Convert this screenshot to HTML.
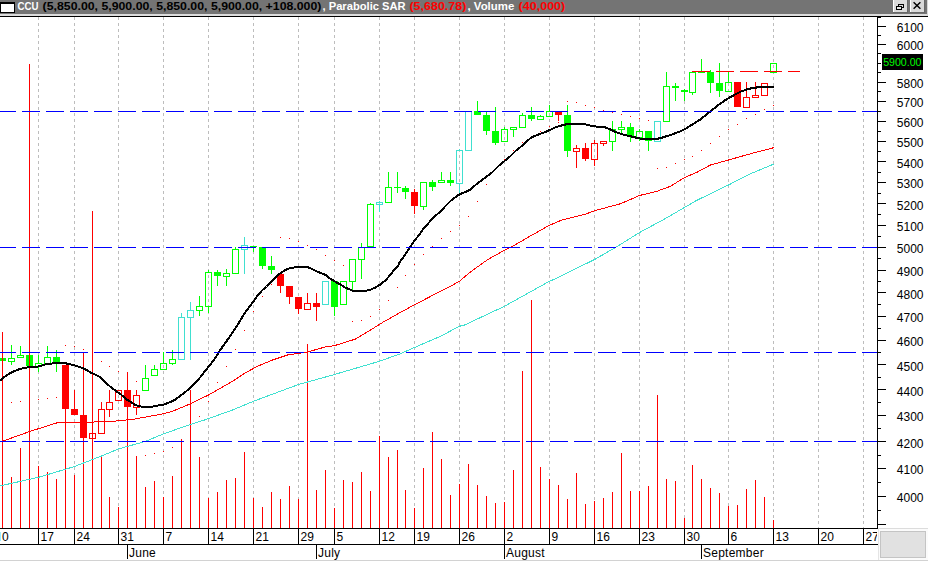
<!DOCTYPE html>
<html><head><meta charset="utf-8"><title>CCU chart</title>
<style>html,body{margin:0;padding:0;background:#fff;overflow:hidden}body{width:928px;height:561px;position:relative;font-family:"Liberation Sans",sans-serif}</style></head>
<body>
<svg width="928" height="561" viewBox="0 0 928 561" style="position:absolute;left:0;top:0" font-family="Liberation Sans, sans-serif">
<rect x="0" y="0" width="928" height="561" fill="#fff"/>
<g shape-rendering="crispEdges">
<clipPath id="cc"><rect x="0" y="17" width="877" height="511"/></clipPath>
<g clip-path="url(#cc)">
<line x1="38.5" y1="17" x2="38.5" y2="528" stroke="#bdbdbd" stroke-width="1" stroke-dasharray="3,3"/>
<line x1="74.5" y1="17" x2="74.5" y2="528" stroke="#bdbdbd" stroke-width="1" stroke-dasharray="3,3"/>
<line x1="118.5" y1="17" x2="118.5" y2="528" stroke="#bdbdbd" stroke-width="1" stroke-dasharray="3,3"/>
<line x1="163.5" y1="17" x2="163.5" y2="528" stroke="#bdbdbd" stroke-width="1" stroke-dasharray="3,3"/>
<line x1="208.5" y1="17" x2="208.5" y2="528" stroke="#bdbdbd" stroke-width="1" stroke-dasharray="3,3"/>
<line x1="253.5" y1="17" x2="253.5" y2="528" stroke="#bdbdbd" stroke-width="1" stroke-dasharray="3,3"/>
<line x1="298.5" y1="17" x2="298.5" y2="528" stroke="#bdbdbd" stroke-width="1" stroke-dasharray="3,3"/>
<line x1="334.5" y1="17" x2="334.5" y2="528" stroke="#bdbdbd" stroke-width="1" stroke-dasharray="3,3"/>
<line x1="379.5" y1="17" x2="379.5" y2="528" stroke="#bdbdbd" stroke-width="1" stroke-dasharray="3,3"/>
<line x1="414.5" y1="17" x2="414.5" y2="528" stroke="#bdbdbd" stroke-width="1" stroke-dasharray="3,3"/>
<line x1="459.5" y1="17" x2="459.5" y2="528" stroke="#bdbdbd" stroke-width="1" stroke-dasharray="3,3"/>
<line x1="504.5" y1="17" x2="504.5" y2="528" stroke="#bdbdbd" stroke-width="1" stroke-dasharray="3,3"/>
<line x1="549.5" y1="17" x2="549.5" y2="528" stroke="#bdbdbd" stroke-width="1" stroke-dasharray="3,3"/>
<line x1="594.5" y1="17" x2="594.5" y2="528" stroke="#bdbdbd" stroke-width="1" stroke-dasharray="3,3"/>
<line x1="639.5" y1="17" x2="639.5" y2="528" stroke="#bdbdbd" stroke-width="1" stroke-dasharray="3,3"/>
<line x1="684.5" y1="17" x2="684.5" y2="528" stroke="#bdbdbd" stroke-width="1" stroke-dasharray="3,3"/>
<line x1="728.5" y1="17" x2="728.5" y2="528" stroke="#bdbdbd" stroke-width="1" stroke-dasharray="3,3"/>
<line x1="773.5" y1="17" x2="773.5" y2="528" stroke="#bdbdbd" stroke-width="1" stroke-dasharray="3,3"/>
<line x1="818.5" y1="17" x2="818.5" y2="528" stroke="#bdbdbd" stroke-width="1" stroke-dasharray="3,3"/>
<line x1="863.5" y1="17" x2="863.5" y2="528" stroke="#bdbdbd" stroke-width="1" stroke-dasharray="3,3"/>
<rect x="-1" y="358" width="7" height="3" fill="#00ff00"/>
<rect x="11" y="345" width="1" height="13" fill="#00ff00"/>
<rect x="11" y="362" width="1" height="3" fill="#00ff00"/>
<rect x="8.5" y="358.5" width="6" height="3" fill="none" stroke="#00ff00" stroke-width="1"/>
<rect x="20" y="346" width="1" height="9" fill="#00ff00"/>
<rect x="17.5" y="355.5" width="6" height="2" fill="none" stroke="#00ff00" stroke-width="1"/>
<rect x="26" y="355" width="7" height="11" fill="#00ff00"/>
<rect x="38" y="355" width="1" height="8" fill="#00ff00"/>
<rect x="38" y="367" width="1" height="5" fill="#00ff00"/>
<rect x="35.5" y="363.5" width="6" height="3" fill="none" stroke="#00ff00" stroke-width="1"/>
<rect x="47" y="346" width="1" height="11" fill="#00ff00"/>
<rect x="44.5" y="357.5" width="6" height="6" fill="none" stroke="#00ff00" stroke-width="1"/>
<rect x="56" y="350" width="1" height="7" fill="#00ff00"/>
<rect x="56" y="363" width="1" height="9" fill="#00ff00"/>
<rect x="53" y="357" width="7" height="6" fill="#00ff00"/>
<rect x="62" y="365" width="7" height="44" fill="#ff0000"/>
<rect x="74" y="390" width="1" height="19" fill="#ff0000"/>
<rect x="71" y="409" width="7" height="6" fill="#ff0000"/>
<rect x="80" y="415" width="7" height="23" fill="#ff0000"/>
<rect x="89.5" y="433.5" width="6" height="5" fill="none" stroke="#ff0000" stroke-width="1"/>
<rect x="101" y="402" width="1" height="7" fill="#ff0000"/>
<rect x="98.5" y="409.5" width="6" height="24" fill="none" stroke="#ff0000" stroke-width="1"/>
<rect x="109" y="390" width="1" height="12" fill="#ff0000"/>
<rect x="109" y="410" width="1" height="7" fill="#ff0000"/>
<rect x="106.5" y="402.5" width="6" height="7" fill="none" stroke="#ff0000" stroke-width="1"/>
<rect x="115.5" y="390.5" width="6" height="10" fill="none" stroke="#ff0000" stroke-width="1"/>
<rect x="124" y="390" width="7" height="17" fill="#ff0000"/>
<rect x="136" y="390" width="1" height="5" fill="#ff0000"/>
<rect x="136" y="408" width="1" height="7" fill="#ff0000"/>
<rect x="133.5" y="395.5" width="6" height="12" fill="none" stroke="#ff0000" stroke-width="1"/>
<rect x="145" y="365" width="1" height="13" fill="#00ff00"/>
<rect x="142.5" y="378.5" width="6" height="12" fill="none" stroke="#00ff00" stroke-width="1"/>
<rect x="154" y="365" width="1" height="4" fill="#00ff00"/>
<rect x="151.5" y="369.5" width="6" height="6" fill="none" stroke="#00ff00" stroke-width="1"/>
<rect x="163" y="352" width="1" height="11" fill="#00ff00"/>
<rect x="160.5" y="363.5" width="6" height="6" fill="none" stroke="#00ff00" stroke-width="1"/>
<rect x="172" y="350" width="1" height="9" fill="#00ff00"/>
<rect x="172" y="364" width="1" height="1" fill="#00ff00"/>
<rect x="169.5" y="359.5" width="6" height="4" fill="none" stroke="#00ff00" stroke-width="1"/>
<rect x="181" y="313" width="1" height="4" fill="#40e0d0"/>
<rect x="178.5" y="317.5" width="6" height="42" fill="none" stroke="#40e0d0" stroke-width="1"/>
<rect x="190" y="302" width="1" height="8" fill="#40e0d0"/>
<rect x="190" y="318" width="1" height="42" fill="#40e0d0"/>
<rect x="187.5" y="310.5" width="6" height="7" fill="none" stroke="#40e0d0" stroke-width="1"/>
<rect x="199" y="296" width="1" height="10" fill="#00ff00"/>
<rect x="199" y="311" width="1" height="5" fill="#00ff00"/>
<rect x="196.5" y="306.5" width="6" height="4" fill="none" stroke="#00ff00" stroke-width="1"/>
<rect x="208" y="270" width="1" height="2" fill="#00ff00"/>
<rect x="208" y="307" width="1" height="6" fill="#00ff00"/>
<rect x="205.5" y="272.5" width="6" height="34" fill="none" stroke="#00ff00" stroke-width="1"/>
<rect x="217" y="270" width="1" height="2" fill="#00ff00"/>
<rect x="217" y="276" width="1" height="10" fill="#00ff00"/>
<rect x="214" y="272" width="7" height="4" fill="#00ff00"/>
<rect x="226" y="269" width="1" height="4" fill="#00ff00"/>
<rect x="226" y="277" width="1" height="9" fill="#00ff00"/>
<rect x="223.5" y="273.5" width="6" height="3" fill="none" stroke="#00ff00" stroke-width="1"/>
<rect x="235" y="247" width="1" height="2" fill="#00ff00"/>
<rect x="232.5" y="249.5" width="6" height="24" fill="none" stroke="#00ff00" stroke-width="1"/>
<rect x="244" y="237" width="1" height="8" fill="#40e0d0"/>
<rect x="244" y="250" width="1" height="24" fill="#40e0d0"/>
<rect x="241.5" y="245.5" width="6" height="4" fill="none" stroke="#40e0d0" stroke-width="1"/>
<rect x="253" y="247" width="1" height="5" fill="#00ff00"/>
<rect x="250" y="246" width="7" height="1" fill="#00ff00"/>
<rect x="262" y="266" width="1" height="3" fill="#00ff00"/>
<rect x="259" y="247" width="7" height="19" fill="#00ff00"/>
<rect x="271" y="256" width="1" height="10" fill="#00ff00"/>
<rect x="271" y="270" width="1" height="4" fill="#00ff00"/>
<rect x="268" y="266" width="7" height="4" fill="#00ff00"/>
<rect x="280" y="286" width="1" height="7" fill="#ff0000"/>
<rect x="277" y="274" width="7" height="12" fill="#ff0000"/>
<rect x="289" y="297" width="1" height="7" fill="#ff0000"/>
<rect x="286" y="286" width="7" height="11" fill="#ff0000"/>
<rect x="298" y="309" width="1" height="5" fill="#ff0000"/>
<rect x="295" y="297" width="7" height="12" fill="#ff0000"/>
<rect x="307" y="293" width="1" height="10" fill="#ff0000"/>
<rect x="304.5" y="303.5" width="6" height="6" fill="none" stroke="#ff0000" stroke-width="1"/>
<rect x="316" y="293" width="1" height="10" fill="#ff0000"/>
<rect x="316" y="307" width="1" height="14" fill="#ff0000"/>
<rect x="313" y="303" width="7" height="4" fill="#ff0000"/>
<rect x="322.5" y="281.5" width="6" height="23" fill="none" stroke="#40e0d0" stroke-width="1"/>
<rect x="334" y="307" width="1" height="9" fill="#00ff00"/>
<rect x="331" y="281" width="7" height="26" fill="#00ff00"/>
<rect x="340.5" y="281.5" width="6" height="23" fill="none" stroke="#00ff00" stroke-width="1"/>
<rect x="352" y="282" width="1" height="8" fill="#00ff00"/>
<rect x="349.5" y="259.5" width="6" height="22" fill="none" stroke="#00ff00" stroke-width="1"/>
<rect x="361" y="243" width="1" height="4" fill="#00ff00"/>
<rect x="361" y="260" width="1" height="19" fill="#00ff00"/>
<rect x="358.5" y="247.5" width="6" height="12" fill="none" stroke="#00ff00" stroke-width="1"/>
<rect x="370" y="203" width="1" height="1" fill="#00ff00"/>
<rect x="367.5" y="204.5" width="6" height="42" fill="none" stroke="#00ff00" stroke-width="1"/>
<rect x="379" y="201" width="1" height="1" fill="#40e0d0"/>
<rect x="379" y="205" width="1" height="7" fill="#40e0d0"/>
<rect x="376.5" y="202.5" width="6" height="2" fill="none" stroke="#40e0d0" stroke-width="1"/>
<rect x="388" y="172" width="1" height="15" fill="#00ff00"/>
<rect x="385.5" y="187.5" width="6" height="15" fill="none" stroke="#00ff00" stroke-width="1"/>
<rect x="397" y="172" width="1" height="15" fill="#00ff00"/>
<rect x="397" y="188" width="1" height="5" fill="#00ff00"/>
<rect x="394" y="187" width="7" height="1" fill="#00ff00"/>
<rect x="405" y="186" width="1" height="2" fill="#00ff00"/>
<rect x="405" y="192" width="1" height="7" fill="#00ff00"/>
<rect x="402" y="188" width="7" height="4" fill="#00ff00"/>
<rect x="414" y="189" width="1" height="3" fill="#ff0000"/>
<rect x="414" y="206" width="1" height="8" fill="#ff0000"/>
<rect x="411" y="192" width="7" height="14" fill="#ff0000"/>
<rect x="423" y="207" width="1" height="3" fill="#00ff00"/>
<rect x="420.5" y="182.5" width="6" height="24" fill="none" stroke="#00ff00" stroke-width="1"/>
<rect x="432" y="180" width="1" height="2" fill="#00ff00"/>
<rect x="432" y="187" width="1" height="4" fill="#00ff00"/>
<rect x="429" y="182" width="7" height="5" fill="#00ff00"/>
<rect x="441" y="172" width="1" height="8" fill="#00ff00"/>
<rect x="438.5" y="180.5" width="6" height="2" fill="none" stroke="#00ff00" stroke-width="1"/>
<rect x="450" y="172" width="1" height="8" fill="#00ff00"/>
<rect x="450" y="183" width="1" height="3" fill="#00ff00"/>
<rect x="447" y="180" width="7" height="3" fill="#00ff00"/>
<rect x="459" y="149" width="1" height="1" fill="#40e0d0"/>
<rect x="459" y="184" width="1" height="9" fill="#40e0d0"/>
<rect x="456.5" y="150.5" width="6" height="33" fill="none" stroke="#40e0d0" stroke-width="1"/>
<rect x="465.5" y="111.5" width="6" height="39" fill="none" stroke="#40e0d0" stroke-width="1"/>
<rect x="477" y="101" width="1" height="10" fill="#00ff00"/>
<rect x="474" y="111" width="7" height="4" fill="#00ff00"/>
<rect x="486" y="112" width="1" height="3" fill="#00ff00"/>
<rect x="486" y="131" width="1" height="4" fill="#00ff00"/>
<rect x="483" y="115" width="7" height="16" fill="#00ff00"/>
<rect x="495" y="107" width="1" height="24" fill="#00ff00"/>
<rect x="495" y="143" width="1" height="2" fill="#00ff00"/>
<rect x="492" y="131" width="7" height="12" fill="#00ff00"/>
<rect x="504" y="127" width="1" height="2" fill="#00ff00"/>
<rect x="501.5" y="129.5" width="6" height="12" fill="none" stroke="#00ff00" stroke-width="1"/>
<rect x="513" y="130" width="1" height="7" fill="#00ff00"/>
<rect x="510.5" y="127.5" width="6" height="2" fill="none" stroke="#00ff00" stroke-width="1"/>
<rect x="522" y="113" width="1" height="2" fill="#00ff00"/>
<rect x="519.5" y="115.5" width="6" height="12" fill="none" stroke="#00ff00" stroke-width="1"/>
<rect x="531" y="107" width="1" height="8" fill="#00ff00"/>
<rect x="531" y="119" width="1" height="2" fill="#00ff00"/>
<rect x="528" y="115" width="7" height="4" fill="#00ff00"/>
<rect x="540" y="115" width="1" height="1" fill="#00ff00"/>
<rect x="537.5" y="116.5" width="6" height="3" fill="none" stroke="#00ff00" stroke-width="1"/>
<rect x="549" y="105" width="1" height="6" fill="#00ff00"/>
<rect x="546.5" y="111.5" width="6" height="5" fill="none" stroke="#00ff00" stroke-width="1"/>
<rect x="558" y="115" width="1" height="6" fill="#ff0000"/>
<rect x="555" y="112" width="7" height="3" fill="#ff0000"/>
<rect x="567" y="105" width="1" height="10" fill="#00ff00"/>
<rect x="567" y="151" width="1" height="6" fill="#00ff00"/>
<rect x="564" y="115" width="7" height="36" fill="#00ff00"/>
<rect x="576" y="145" width="1" height="3" fill="#ff0000"/>
<rect x="576" y="152" width="1" height="16" fill="#ff0000"/>
<rect x="573.5" y="148.5" width="6" height="3" fill="none" stroke="#ff0000" stroke-width="1"/>
<rect x="585" y="143" width="1" height="5" fill="#ff0000"/>
<rect x="585" y="159" width="1" height="2" fill="#ff0000"/>
<rect x="582" y="148" width="7" height="11" fill="#ff0000"/>
<rect x="594" y="140" width="1" height="3" fill="#ff0000"/>
<rect x="594" y="160" width="1" height="6" fill="#ff0000"/>
<rect x="591.5" y="143.5" width="6" height="16" fill="none" stroke="#ff0000" stroke-width="1"/>
<rect x="603" y="144" width="1" height="2" fill="#ff0000"/>
<rect x="600.5" y="141.5" width="6" height="2" fill="none" stroke="#ff0000" stroke-width="1"/>
<rect x="612" y="121" width="1" height="8" fill="#00ff00"/>
<rect x="612" y="142" width="1" height="9" fill="#00ff00"/>
<rect x="609.5" y="129.5" width="6" height="12" fill="none" stroke="#00ff00" stroke-width="1"/>
<rect x="621" y="121" width="1" height="6" fill="#00ff00"/>
<rect x="621" y="130" width="1" height="3" fill="#00ff00"/>
<rect x="618.5" y="127.5" width="6" height="2" fill="none" stroke="#00ff00" stroke-width="1"/>
<rect x="630" y="123" width="1" height="4" fill="#00ff00"/>
<rect x="630" y="137" width="1" height="5" fill="#00ff00"/>
<rect x="627" y="127" width="7" height="10" fill="#00ff00"/>
<rect x="639" y="129" width="1" height="2" fill="#00ff00"/>
<rect x="639" y="138" width="1" height="3" fill="#00ff00"/>
<rect x="636.5" y="131.5" width="6" height="6" fill="none" stroke="#00ff00" stroke-width="1"/>
<rect x="648" y="141" width="1" height="10" fill="#00ff00"/>
<rect x="645" y="131" width="7" height="10" fill="#00ff00"/>
<rect x="654.5" y="121.5" width="6" height="20" fill="none" stroke="#40e0d0" stroke-width="1"/>
<rect x="666" y="72" width="1" height="14" fill="#00ff00"/>
<rect x="663.5" y="86.5" width="6" height="35" fill="none" stroke="#00ff00" stroke-width="1"/>
<rect x="675" y="83" width="1" height="3" fill="#00ff00"/>
<rect x="675" y="88" width="1" height="13" fill="#00ff00"/>
<rect x="672" y="86" width="7" height="2" fill="#00ff00"/>
<rect x="684" y="89" width="1" height="1" fill="#00ff00"/>
<rect x="684" y="92" width="1" height="9" fill="#00ff00"/>
<rect x="681" y="90" width="7" height="2" fill="#00ff00"/>
<rect x="692" y="93" width="1" height="2" fill="#00ff00"/>
<rect x="689.5" y="72.5" width="6" height="20" fill="none" stroke="#00ff00" stroke-width="1"/>
<rect x="701" y="59" width="1" height="13" fill="#00ff00"/>
<rect x="698" y="72" width="7" height="1" fill="#00ff00"/>
<rect x="710" y="70" width="1" height="2" fill="#00ff00"/>
<rect x="710" y="83" width="1" height="10" fill="#00ff00"/>
<rect x="707" y="72" width="7" height="11" fill="#00ff00"/>
<rect x="719" y="63" width="1" height="20" fill="#00ff00"/>
<rect x="719" y="91" width="1" height="6" fill="#00ff00"/>
<rect x="716" y="83" width="7" height="8" fill="#00ff00"/>
<rect x="728" y="72" width="1" height="10" fill="#00ff00"/>
<rect x="725.5" y="82.5" width="6" height="9" fill="none" stroke="#00ff00" stroke-width="1"/>
<rect x="734" y="82" width="7" height="25" fill="#ff0000"/>
<rect x="746" y="82" width="1" height="15" fill="#ff0000"/>
<rect x="743.5" y="97.5" width="6" height="10" fill="none" stroke="#ff0000" stroke-width="1"/>
<rect x="755" y="82" width="1" height="13" fill="#ff0000"/>
<rect x="752.5" y="95.5" width="6" height="2" fill="none" stroke="#ff0000" stroke-width="1"/>
<rect x="761.5" y="83.5" width="6" height="12" fill="none" stroke="#ff0000" stroke-width="1"/>
<rect x="770.5" y="63.5" width="6" height="9" fill="none" stroke="#00ff00" stroke-width="1"/>
<rect x="2" y="403" width="1" height="1" fill="#ff0000"/>
<rect x="11" y="402" width="1" height="1" fill="#ff0000"/>
<rect x="20" y="401" width="1" height="1" fill="#ff0000"/>
<rect x="29" y="400" width="1" height="1" fill="#ff0000"/>
<rect x="38" y="399" width="1" height="1" fill="#ff0000"/>
<rect x="47" y="398" width="1" height="1" fill="#ff0000"/>
<rect x="56" y="397" width="1" height="1" fill="#ff0000"/>
<rect x="65" y="345" width="1" height="1" fill="#ff0000"/>
<rect x="74" y="346" width="1" height="1" fill="#ff0000"/>
<rect x="83" y="349" width="1" height="1" fill="#ff0000"/>
<rect x="92" y="355" width="1" height="1" fill="#ff0000"/>
<rect x="101" y="361" width="1" height="1" fill="#ff0000"/>
<rect x="109" y="366" width="1" height="1" fill="#ff0000"/>
<rect x="118" y="371" width="1" height="1" fill="#ff0000"/>
<rect x="127" y="376" width="1" height="1" fill="#ff0000"/>
<rect x="136" y="381" width="1" height="1" fill="#ff0000"/>
<rect x="145" y="455" width="1" height="1" fill="#ff0000"/>
<rect x="154" y="453" width="1" height="1" fill="#ff0000"/>
<rect x="163" y="451" width="1" height="1" fill="#ff0000"/>
<rect x="172" y="447" width="1" height="1" fill="#ff0000"/>
<rect x="181" y="440" width="1" height="1" fill="#ff0000"/>
<rect x="190" y="430" width="1" height="1" fill="#ff0000"/>
<rect x="199" y="416" width="1" height="1" fill="#ff0000"/>
<rect x="208" y="401" width="1" height="1" fill="#ff0000"/>
<rect x="217" y="382" width="1" height="1" fill="#ff0000"/>
<rect x="226" y="366" width="1" height="1" fill="#ff0000"/>
<rect x="235" y="349" width="1" height="1" fill="#ff0000"/>
<rect x="244" y="330" width="1" height="1" fill="#ff0000"/>
<rect x="253" y="311" width="1" height="1" fill="#ff0000"/>
<rect x="262" y="296" width="1" height="1" fill="#ff0000"/>
<rect x="271" y="284" width="1" height="1" fill="#ff0000"/>
<rect x="280" y="237" width="1" height="1" fill="#ff0000"/>
<rect x="289" y="238" width="1" height="1" fill="#ff0000"/>
<rect x="298" y="241" width="1" height="1" fill="#ff0000"/>
<rect x="307" y="245" width="1" height="1" fill="#ff0000"/>
<rect x="316" y="249" width="1" height="1" fill="#ff0000"/>
<rect x="325" y="255" width="1" height="1" fill="#ff0000"/>
<rect x="334" y="260" width="1" height="1" fill="#ff0000"/>
<rect x="343" y="265" width="1" height="1" fill="#ff0000"/>
<rect x="352" y="321" width="1" height="1" fill="#ff0000"/>
<rect x="361" y="320" width="1" height="1" fill="#ff0000"/>
<rect x="370" y="316" width="1" height="1" fill="#ff0000"/>
<rect x="379" y="309" width="1" height="1" fill="#ff0000"/>
<rect x="388" y="300" width="1" height="1" fill="#ff0000"/>
<rect x="397" y="287" width="1" height="1" fill="#ff0000"/>
<rect x="405" y="275" width="1" height="1" fill="#ff0000"/>
<rect x="414" y="264" width="1" height="1" fill="#ff0000"/>
<rect x="423" y="254" width="1" height="1" fill="#ff0000"/>
<rect x="432" y="246" width="1" height="1" fill="#ff0000"/>
<rect x="441" y="238" width="1" height="1" fill="#ff0000"/>
<rect x="450" y="231" width="1" height="1" fill="#ff0000"/>
<rect x="459" y="225" width="1" height="1" fill="#ff0000"/>
<rect x="468" y="216" width="1" height="1" fill="#ff0000"/>
<rect x="477" y="201" width="1" height="1" fill="#ff0000"/>
<rect x="486" y="184" width="1" height="1" fill="#ff0000"/>
<rect x="504" y="159" width="1" height="1" fill="#ff0000"/>
<rect x="513" y="150" width="1" height="1" fill="#ff0000"/>
<rect x="522" y="142" width="1" height="1" fill="#ff0000"/>
<rect x="540" y="131" width="1" height="1" fill="#ff0000"/>
<rect x="549" y="126" width="1" height="1" fill="#ff0000"/>
<rect x="558" y="122" width="1" height="1" fill="#ff0000"/>
<rect x="567" y="101" width="1" height="1" fill="#ff0000"/>
<rect x="576" y="102" width="1" height="1" fill="#ff0000"/>
<rect x="585" y="105" width="1" height="1" fill="#ff0000"/>
<rect x="594" y="107" width="1" height="1" fill="#ff0000"/>
<rect x="603" y="110" width="1" height="1" fill="#ff0000"/>
<rect x="612" y="112" width="1" height="1" fill="#ff0000"/>
<rect x="621" y="114" width="1" height="1" fill="#ff0000"/>
<rect x="630" y="116" width="1" height="1" fill="#ff0000"/>
<rect x="639" y="118" width="1" height="1" fill="#ff0000"/>
<rect x="648" y="120" width="1" height="1" fill="#ff0000"/>
<rect x="657" y="168" width="1" height="1" fill="#ff0000"/>
<rect x="666" y="167" width="1" height="1" fill="#ff0000"/>
<rect x="675" y="163" width="1" height="1" fill="#ff0000"/>
<rect x="684" y="159" width="1" height="1" fill="#ff0000"/>
<rect x="692" y="156" width="1" height="1" fill="#ff0000"/>
<rect x="701" y="150" width="1" height="1" fill="#ff0000"/>
<rect x="710" y="143" width="1" height="1" fill="#ff0000"/>
<rect x="719" y="136" width="1" height="1" fill="#ff0000"/>
<rect x="728" y="129" width="1" height="1" fill="#ff0000"/>
<rect x="737" y="124" width="1" height="1" fill="#ff0000"/>
<rect x="746" y="118" width="1" height="1" fill="#ff0000"/>
<rect x="755" y="114" width="1" height="1" fill="#ff0000"/>
<rect x="764" y="109" width="1" height="1" fill="#ff0000"/>
<rect x="773" y="105" width="1" height="1" fill="#ff0000"/>
<rect x="2" y="332" width="1" height="196" fill="#ff0000"/>
<rect x="11" y="477" width="1" height="51" fill="#ff0000"/>
<rect x="20" y="448" width="1" height="80" fill="#ff0000"/>
<rect x="29" y="64" width="1" height="464" fill="#ff0000"/>
<rect x="38" y="466" width="1" height="62" fill="#ff0000"/>
<rect x="47" y="472" width="1" height="56" fill="#ff0000"/>
<rect x="56" y="479" width="1" height="49" fill="#ff0000"/>
<rect x="65" y="400" width="1" height="128" fill="#ff0000"/>
<rect x="74" y="475" width="1" height="53" fill="#ff0000"/>
<rect x="83" y="352" width="1" height="176" fill="#ff0000"/>
<rect x="92" y="211" width="1" height="317" fill="#ff0000"/>
<rect x="101" y="455" width="1" height="73" fill="#ff0000"/>
<rect x="109" y="497" width="1" height="31" fill="#ff0000"/>
<rect x="118" y="507" width="1" height="21" fill="#ff0000"/>
<rect x="127" y="372" width="1" height="156" fill="#ff0000"/>
<rect x="136" y="456" width="1" height="72" fill="#ff0000"/>
<rect x="145" y="487" width="1" height="41" fill="#ff0000"/>
<rect x="154" y="481" width="1" height="47" fill="#ff0000"/>
<rect x="163" y="497" width="1" height="31" fill="#ff0000"/>
<rect x="172" y="476" width="1" height="52" fill="#ff0000"/>
<rect x="181" y="439" width="1" height="89" fill="#ff0000"/>
<rect x="190" y="390" width="1" height="138" fill="#ff0000"/>
<rect x="199" y="457" width="1" height="71" fill="#ff0000"/>
<rect x="208" y="498" width="1" height="30" fill="#ff0000"/>
<rect x="217" y="492" width="1" height="36" fill="#ff0000"/>
<rect x="226" y="480" width="1" height="48" fill="#ff0000"/>
<rect x="235" y="478" width="1" height="50" fill="#ff0000"/>
<rect x="244" y="452" width="1" height="76" fill="#ff0000"/>
<rect x="253" y="498" width="1" height="30" fill="#ff0000"/>
<rect x="262" y="507" width="1" height="21" fill="#ff0000"/>
<rect x="271" y="492" width="1" height="36" fill="#ff0000"/>
<rect x="280" y="499" width="1" height="29" fill="#ff0000"/>
<rect x="289" y="486" width="1" height="42" fill="#ff0000"/>
<rect x="298" y="499" width="1" height="29" fill="#ff0000"/>
<rect x="307" y="344" width="1" height="184" fill="#ff0000"/>
<rect x="316" y="490" width="1" height="38" fill="#ff0000"/>
<rect x="325" y="470" width="1" height="58" fill="#ff0000"/>
<rect x="334" y="508" width="1" height="20" fill="#ff0000"/>
<rect x="343" y="480" width="1" height="48" fill="#ff0000"/>
<rect x="352" y="482" width="1" height="46" fill="#ff0000"/>
<rect x="361" y="472" width="1" height="56" fill="#ff0000"/>
<rect x="370" y="491" width="1" height="37" fill="#ff0000"/>
<rect x="379" y="436" width="1" height="92" fill="#ff0000"/>
<rect x="388" y="457" width="1" height="71" fill="#ff0000"/>
<rect x="397" y="450" width="1" height="78" fill="#ff0000"/>
<rect x="405" y="490" width="1" height="38" fill="#ff0000"/>
<rect x="414" y="508" width="1" height="20" fill="#ff0000"/>
<rect x="423" y="468" width="1" height="60" fill="#ff0000"/>
<rect x="432" y="432" width="1" height="96" fill="#ff0000"/>
<rect x="441" y="459" width="1" height="69" fill="#ff0000"/>
<rect x="450" y="495" width="1" height="33" fill="#ff0000"/>
<rect x="459" y="484" width="1" height="44" fill="#ff0000"/>
<rect x="468" y="464" width="1" height="64" fill="#ff0000"/>
<rect x="477" y="485" width="1" height="43" fill="#ff0000"/>
<rect x="486" y="496" width="1" height="32" fill="#ff0000"/>
<rect x="495" y="503" width="1" height="25" fill="#ff0000"/>
<rect x="504" y="502" width="1" height="26" fill="#ff0000"/>
<rect x="513" y="470" width="1" height="58" fill="#ff0000"/>
<rect x="522" y="371" width="1" height="157" fill="#ff0000"/>
<rect x="531" y="300" width="1" height="228" fill="#ff0000"/>
<rect x="540" y="467" width="1" height="61" fill="#ff0000"/>
<rect x="549" y="479" width="1" height="49" fill="#ff0000"/>
<rect x="558" y="485" width="1" height="43" fill="#ff0000"/>
<rect x="567" y="499" width="1" height="29" fill="#ff0000"/>
<rect x="576" y="473" width="1" height="55" fill="#ff0000"/>
<rect x="585" y="504" width="1" height="24" fill="#ff0000"/>
<rect x="594" y="501" width="1" height="27" fill="#ff0000"/>
<rect x="603" y="498" width="1" height="30" fill="#ff0000"/>
<rect x="612" y="492" width="1" height="36" fill="#ff0000"/>
<rect x="621" y="453" width="1" height="75" fill="#ff0000"/>
<rect x="630" y="491" width="1" height="37" fill="#ff0000"/>
<rect x="639" y="491" width="1" height="37" fill="#ff0000"/>
<rect x="648" y="486" width="1" height="42" fill="#ff0000"/>
<rect x="657" y="395" width="1" height="133" fill="#ff0000"/>
<rect x="666" y="479" width="1" height="49" fill="#ff0000"/>
<rect x="675" y="481" width="1" height="47" fill="#ff0000"/>
<rect x="684" y="518" width="1" height="10" fill="#ff0000"/>
<rect x="692" y="465" width="1" height="63" fill="#ff0000"/>
<rect x="701" y="479" width="1" height="49" fill="#ff0000"/>
<rect x="710" y="488" width="1" height="40" fill="#ff0000"/>
<rect x="719" y="493" width="1" height="35" fill="#ff0000"/>
<rect x="728" y="506" width="1" height="22" fill="#ff0000"/>
<rect x="737" y="505" width="1" height="23" fill="#ff0000"/>
<rect x="746" y="489" width="1" height="39" fill="#ff0000"/>
<rect x="755" y="480" width="1" height="48" fill="#ff0000"/>
<rect x="764" y="497" width="1" height="31" fill="#ff0000"/>
<rect x="773" y="520" width="1" height="8" fill="#ff0000"/>
</g>
</g>
<g shape-rendering="crispEdges">
<polyline points="0.5,485.8 38.5,477.3 74.5,466.5 100.5,456.4 118.5,448.9 145.5,441.4 163.5,433.8 190.5,424.5 204.5,420 232.5,410 253.5,401.25 298.5,384.5 334.5,374.5 379.5,361.25 400.5,353.75 414.5,347.5 440.5,336.25 459.5,326.25 464.5,325 504.5,306.25 549.5,281.25 555.5,278.75 594.5,259.5 615.5,247.5 639.5,232.5 660.5,221.25 684.5,207.5 696.5,200.5 728.5,185 750.5,173.75 774.5,163.75" fill="none" stroke="#40e0d0" stroke-width="1"  clip-path="url(#cc)"/>
<polyline points="0.5,441.9 30.5,431.25 56.5,423 70.5,422.5 80.5,422.6 116.5,421 132.5,419.4 163.5,413.75 172.5,411.25 190.5,403.75 208.5,395 232.5,381.25 245.0,373 257.5,366.25 272.5,360 287.5,355 307.5,352 325.0,347 335.0,345.5 355.0,339.25 368.5,331.25 382.5,322.5 402.5,311.25 415.0,304.5 440.5,291.25 450.5,286.25 459.5,281.25 470.5,271.9 488.0,259.4 504.9,250 511.75,246.9 525.5,238.75 546.5,226.9 552.5,224 562.0,220 584.5,214.5 594.5,210.75 620.5,203.75 639.5,195.5 657.0,191.25 670.5,186.25 684.5,177.5 696.5,172.5 710.5,165 728.5,160 750.5,153.75 774.5,147.5" fill="none" stroke="#ff0000" stroke-width="1"  clip-path="url(#cc)"/>
<polyline points="0.5,380.6 5.5,376 10.5,373 15.5,370.6 20.5,368.75 25.5,367.75 30.5,367 38.5,366.5 45.5,364.4 50.5,363.75 56.5,363 62.5,363 66.5,363.5 70.5,364.4 75.5,365.6 80.5,367.25 85.5,369.4 90.5,372.5 95.5,374.75 100.5,377.25 105.5,382.5 110.5,386.9 116.5,391.5 120.5,394 125.5,398.75 130.5,401.9 135.5,405 140.5,406.5 150.5,406.9 155.5,406 163.5,404.6 170.5,401.9 175.5,399.4 180.5,395.6 185.5,391.9 190.5,387.5 195.5,382.75 200.5,376.9 205.5,370.6 210.5,364.4 215.5,357.5 219.5,351 226.5,341.25 235.9,327.5 245.0,312.75 254.0,300.6 258.5,294.4 262.5,290 266.5,286.5 270.5,282.5 275.5,277.5 280.5,273 285.5,270 290.5,267.9 298.5,266.9 307.5,267 311.5,268.75 316.5,271.25 325.5,275 330.5,278.75 334.5,281.25 340.5,284.6 345.5,287.75 352.5,290.6 358.5,291 365.5,290.9 370.5,289.75 375.5,287.5 380.5,284.4 386.5,279.4 392.5,272 398.5,265 399.5,262.5 404.0,256.25 409.0,248.75 413.0,242.5 419.0,235 424.0,228 429.0,222.5 434.0,216.9 440.5,211.5 445.5,206 450.5,201 455.5,197 459.5,194.4 465.5,191.9 470.5,189.4 475.5,185 480.5,181.25 485.5,177.5 491.5,173 498.5,166 505.5,160.2 510.5,156 515.5,151 520.5,147 525.5,142.5 531.5,137.3 535.5,135.8 540.5,133.7 545.5,131.9 550.5,129.7 555.5,127.4 560.5,125.8 565.5,124.5 570.5,123.75 580.5,124 585.5,124.4 590.5,125.6 595.5,126.5 600.5,126.9 605.5,127.5 610.5,129.4 615.5,131.9 620.5,133.75 625.5,135.25 630.5,136.25 635.5,137.5 640.5,138.6 650.5,139.2 657.5,138.75 662.5,137.5 670.5,135 675.5,133.1 680.5,131.25 684.5,129.4 690.5,125.6 695.5,122.5 700.5,119.4 705.5,115.3 710.5,111.4 715.5,107.3 720.5,103.4 725.5,100 730.5,97 735.5,94.3 740.5,91.8 745.5,89.8 750.5,88.5 755.5,87.6 760.5,87.1 774.5,86.9" fill="none" stroke="#000" stroke-width="2" stroke-linejoin="round" clip-path="url(#cc)"/>
<line x1="-2" y1="111.5" x2="877" y2="111.5" stroke="#0000ff" stroke-width="1" stroke-dasharray="18,6"/>
<line x1="-2" y1="247.5" x2="877" y2="247.5" stroke="#0000ff" stroke-width="1" stroke-dasharray="18,6"/>
<line x1="-2" y1="352.5" x2="877" y2="352.5" stroke="#0000ff" stroke-width="1" stroke-dasharray="18,6"/>
<line x1="-2" y1="441.5" x2="877" y2="441.5" stroke="#0000ff" stroke-width="1" stroke-dasharray="18,6"/>
<line x1="692" y1="71.5" x2="800" y2="71.5" stroke="#ff0000" stroke-width="1" stroke-dasharray="18,6"/>
</g>
<g shape-rendering="crispEdges">
<rect x="877" y="17" width="1" height="512" fill="#000"/>
<rect x="877" y="17" width="4" height="1" fill="#000"/>
<rect x="878" y="524" width="8" height="1" fill="#000"/>
<rect x="878" y="510" width="3" height="1" fill="#000"/>
<rect x="878" y="496" width="8" height="1" fill="#000"/>
<rect x="878" y="482" width="3" height="1" fill="#000"/>
<rect x="878" y="468" width="8" height="1" fill="#000"/>
<rect x="878" y="455" width="3" height="1" fill="#000"/>
<rect x="878" y="441" width="8" height="1" fill="#000"/>
<rect x="878" y="428" width="3" height="1" fill="#000"/>
<rect x="878" y="415" width="8" height="1" fill="#000"/>
<rect x="878" y="402" width="3" height="1" fill="#000"/>
<rect x="878" y="389" width="8" height="1" fill="#000"/>
<rect x="878" y="377" width="3" height="1" fill="#000"/>
<rect x="878" y="364" width="8" height="1" fill="#000"/>
<rect x="878" y="352" width="3" height="1" fill="#000"/>
<rect x="878" y="340" width="8" height="1" fill="#000"/>
<rect x="878" y="328" width="3" height="1" fill="#000"/>
<rect x="878" y="316" width="8" height="1" fill="#000"/>
<rect x="878" y="304" width="3" height="1" fill="#000"/>
<rect x="878" y="292" width="8" height="1" fill="#000"/>
<rect x="878" y="281" width="3" height="1" fill="#000"/>
<rect x="878" y="270" width="8" height="1" fill="#000"/>
<rect x="878" y="258" width="3" height="1" fill="#000"/>
<rect x="878" y="247" width="8" height="1" fill="#000"/>
<rect x="878" y="236" width="3" height="1" fill="#000"/>
<rect x="878" y="225" width="8" height="1" fill="#000"/>
<rect x="878" y="214" width="3" height="1" fill="#000"/>
<rect x="878" y="203" width="8" height="1" fill="#000"/>
<rect x="878" y="193" width="3" height="1" fill="#000"/>
<rect x="878" y="182" width="8" height="1" fill="#000"/>
<rect x="878" y="172" width="3" height="1" fill="#000"/>
<rect x="878" y="161" width="8" height="1" fill="#000"/>
<rect x="878" y="151" width="3" height="1" fill="#000"/>
<rect x="878" y="141" width="8" height="1" fill="#000"/>
<rect x="878" y="131" width="3" height="1" fill="#000"/>
<rect x="878" y="121" width="8" height="1" fill="#000"/>
<rect x="878" y="111" width="3" height="1" fill="#000"/>
<rect x="878" y="101" width="8" height="1" fill="#000"/>
<rect x="878" y="91" width="3" height="1" fill="#000"/>
<rect x="878" y="82" width="8" height="1" fill="#000"/>
<rect x="878" y="72" width="3" height="1" fill="#000"/>
<rect x="878" y="63" width="8" height="1" fill="#000"/>
<rect x="878" y="53" width="3" height="1" fill="#000"/>
<rect x="878" y="44" width="8" height="1" fill="#000"/>
<rect x="878" y="35" width="3" height="1" fill="#000"/>
<rect x="878" y="26" width="8" height="1" fill="#000"/>
</g>
<text x="923.5" y="501.9" font-size="12" text-anchor="end" fill="#000">4000</text>
<text x="923.5" y="474.4" font-size="12" text-anchor="end" fill="#000">4100</text>
<text x="923.5" y="447.5" font-size="12" text-anchor="end" fill="#000">4200</text>
<text x="923.5" y="421.3" font-size="12" text-anchor="end" fill="#000">4300</text>
<text x="923.5" y="395.7" font-size="12" text-anchor="end" fill="#000">4400</text>
<text x="923.5" y="370.7" font-size="12" text-anchor="end" fill="#000">4500</text>
<text x="923.5" y="346.2" font-size="12" text-anchor="end" fill="#000">4600</text>
<text x="923.5" y="322.2" font-size="12" text-anchor="end" fill="#000">4700</text>
<text x="923.5" y="298.8" font-size="12" text-anchor="end" fill="#000">4800</text>
<text x="923.5" y="275.8" font-size="12" text-anchor="end" fill="#000">4900</text>
<text x="923.5" y="253.3" font-size="12" text-anchor="end" fill="#000">5000</text>
<text x="923.5" y="231.3" font-size="12" text-anchor="end" fill="#000">5100</text>
<text x="923.5" y="209.6" font-size="12" text-anchor="end" fill="#000">5200</text>
<text x="923.5" y="188.4" font-size="12" text-anchor="end" fill="#000">5300</text>
<text x="923.5" y="167.6" font-size="12" text-anchor="end" fill="#000">5400</text>
<text x="923.5" y="147.1" font-size="12" text-anchor="end" fill="#000">5500</text>
<text x="923.5" y="127.1" font-size="12" text-anchor="end" fill="#000">5600</text>
<text x="923.5" y="107.4" font-size="12" text-anchor="end" fill="#000">5700</text>
<text x="923.5" y="88.0" font-size="12" text-anchor="end" fill="#000">5800</text>
<text x="923.5" y="50.2" font-size="12" text-anchor="end" fill="#000">6000</text>
<text x="923.5" y="31.8" font-size="12" text-anchor="end" fill="#000">6100</text>
<rect x="881" y="53" width="43" height="18" fill="#fff" shape-rendering="crispEdges"/>
<rect x="882" y="54" width="41" height="16" fill="#000" shape-rendering="crispEdges"/>
<text x="883.2" y="66.3" font-size="11" fill="#00fa00" textLength="38.3" lengthAdjust="spacingAndGlyphs">5900.00</text>
<g shape-rendering="crispEdges">
<rect x="0" y="528" width="878" height="1" fill="#000"/>
<rect x="0" y="544" width="878" height="1" fill="#000"/>
<rect x="38" y="528" width="1" height="17" fill="#000"/>
<rect x="74" y="528" width="1" height="17" fill="#000"/>
<rect x="118" y="528" width="1" height="17" fill="#000"/>
<rect x="163" y="528" width="1" height="17" fill="#000"/>
<rect x="208" y="528" width="1" height="17" fill="#000"/>
<rect x="253" y="528" width="1" height="17" fill="#000"/>
<rect x="298" y="528" width="1" height="17" fill="#000"/>
<rect x="334" y="528" width="1" height="17" fill="#000"/>
<rect x="379" y="528" width="1" height="17" fill="#000"/>
<rect x="414" y="528" width="1" height="17" fill="#000"/>
<rect x="459" y="528" width="1" height="17" fill="#000"/>
<rect x="504" y="528" width="1" height="17" fill="#000"/>
<rect x="549" y="528" width="1" height="17" fill="#000"/>
<rect x="594" y="528" width="1" height="17" fill="#000"/>
<rect x="639" y="528" width="1" height="17" fill="#000"/>
<rect x="684" y="528" width="1" height="17" fill="#000"/>
<rect x="728" y="528" width="1" height="17" fill="#000"/>
<rect x="773" y="528" width="1" height="17" fill="#000"/>
<rect x="818" y="528" width="1" height="17" fill="#000"/>
<rect x="863" y="528" width="1" height="17" fill="#000"/>
<rect x="127" y="544" width="1" height="15" fill="#000"/>
<rect x="316" y="544" width="1" height="15" fill="#000"/>
<rect x="504" y="544" width="1" height="15" fill="#000"/>
<rect x="701" y="544" width="1" height="15" fill="#000"/>
</g>
<clipPath id="bc"><rect x="0" y="529" width="877" height="32"/></clipPath>
<g clip-path="url(#bc)">
<rect x="0" y="532" width="1" height="9" fill="#9defff"/>
<text x="2.05" y="540.6" font-size="12" fill="#000">0</text>
<text x="40.6" y="540.6" font-size="12" fill="#000">17</text>
<text x="76.6" y="540.6" font-size="12" fill="#000">24</text>
<text x="120.6" y="540.6" font-size="12" fill="#000">31</text>
<text x="165.6" y="540.6" font-size="12" fill="#000">7</text>
<text x="210.6" y="540.6" font-size="12" fill="#000">14</text>
<text x="255.6" y="540.6" font-size="12" fill="#000">21</text>
<text x="300.6" y="540.6" font-size="12" fill="#000">29</text>
<text x="336.6" y="540.6" font-size="12" fill="#000">5</text>
<text x="381.6" y="540.6" font-size="12" fill="#000">12</text>
<text x="416.6" y="540.6" font-size="12" fill="#000">19</text>
<text x="461.6" y="540.6" font-size="12" fill="#000">26</text>
<text x="506.6" y="540.6" font-size="12" fill="#000">2</text>
<text x="551.6" y="540.6" font-size="12" fill="#000">9</text>
<text x="596.6" y="540.6" font-size="12" fill="#000">16</text>
<text x="641.6" y="540.6" font-size="12" fill="#000">23</text>
<text x="686.6" y="540.6" font-size="12" fill="#000">30</text>
<text x="730.6" y="540.6" font-size="12" fill="#000">6</text>
<text x="775.6" y="540.6" font-size="12" fill="#000">13</text>
<text x="820.6" y="540.6" font-size="12" fill="#000">20</text>
<text x="865.6" y="540.6" font-size="12" fill="#000">27</text>
<text x="129" y="556.6" font-size="12" letter-spacing="0.25" fill="#000">June</text>
<text x="318" y="556.6" font-size="12" letter-spacing="0.25" fill="#000">July</text>
<text x="506" y="556.6" font-size="12" letter-spacing="0.25" fill="#000">August</text>
<text x="703" y="556.6" font-size="12" letter-spacing="0.25" fill="#000">September</text>
</g>
<g shape-rendering="crispEdges">
<rect x="878" y="528" width="50" height="33" fill="#fbfbfb"/>
<rect x="878" y="528" width="50" height="1" fill="#dcdcdc"/>
<rect x="878" y="528" width="1" height="33" fill="#e4e4e4"/>
<rect x="880.5" y="531.5" width="45" height="26" fill="#e1e1e1" stroke="#c4c4c4" stroke-width="1"/>
<rect x="0" y="560" width="928" height="1" fill="#d2d2d2"/>
</g>
<g shape-rendering="crispEdges">
<rect x="0" y="0" width="928" height="14" fill="#747474"/>
<rect x="0" y="14" width="928" height="2" fill="#dcdcdc"/>
<rect x="0" y="16" width="928" height="1" fill="#000"/>
<rect x="927" y="0" width="1" height="16" fill="#d8d8d8"/>
<rect x="0" y="2" width="15" height="11" fill="#000"/>
<rect x="1" y="4" width="13" height="8" fill="#fff"/>
<rect x="893" y="0" width="15" height="13" fill="#686868"/>
<rect x="893" y="0" width="14" height="12" fill="#fff"/>
<rect x="894" y="0" width="13" height="12" fill="#dadada"/>
<rect x="910" y="0" width="15" height="13" fill="#686868"/>
<rect x="910" y="0" width="14" height="12" fill="#fff"/>
<rect x="911" y="0" width="13" height="12" fill="#dadada"/>
<rect x="898.5" y="4.5" width="5" height="3" fill="#d9d9d9" stroke="#000"/>
<rect x="896.5" y="6.5" width="5" height="3" fill="#e8e8e8" stroke="#000"/>
</g>
<path d="M913.6 2.3 L920.4 8.7 M920.4 2.3 L913.6 8.7" stroke="#000" stroke-width="1.45" fill="none"/>
<text x="17.5" y="10" font-size="11.5" font-weight="bold" fill="#fff" textLength="20.9" lengthAdjust="spacingAndGlyphs">CCU</text>
<text x="42.6" y="10" font-size="11.5" font-weight="bold" fill="#000" textLength="278.8" lengthAdjust="spacingAndGlyphs">(5,850.00, 5,900.00, 5,850.00, 5,900.00, +108.000)</text>
<text x="322.5" y="10" font-size="11.5" font-weight="bold" fill="#fff" textLength="83.1" lengthAdjust="spacingAndGlyphs">, Parabolic SAR</text>
<text x="409.4" y="10" font-size="11.5" font-weight="bold" fill="#f00" textLength="57.0" lengthAdjust="spacingAndGlyphs">(5,680.78)</text>
<text x="467.5" y="10" font-size="11.5" font-weight="bold" fill="#fff" textLength="46.8" lengthAdjust="spacingAndGlyphs">, Volume</text>
<text x="518.5" y="10" font-size="11.5" font-weight="bold" fill="#f00" textLength="46.8" lengthAdjust="spacingAndGlyphs">(40,000)</text>
</svg>
</body></html>
